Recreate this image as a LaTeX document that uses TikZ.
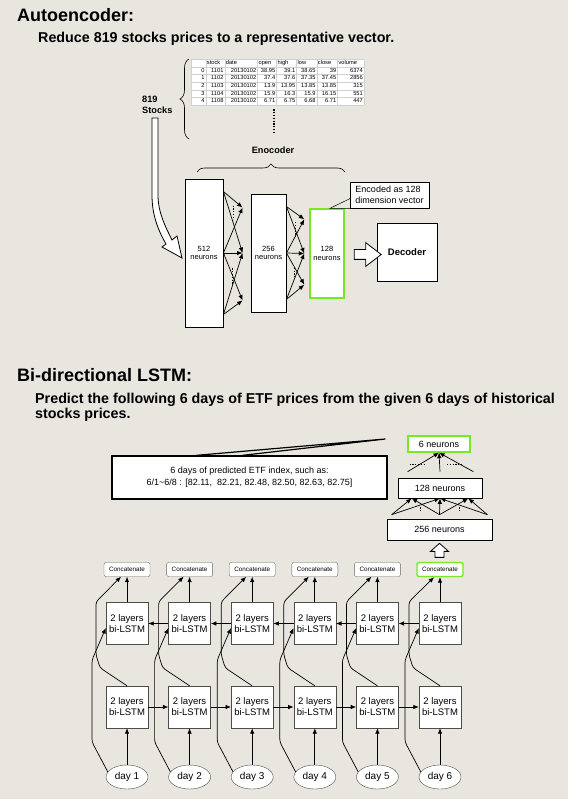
\documentclass[tikz,border=0pt]{standalone}
\usepackage{fontspec}
\setmainfont{Liberation Sans}
\usepackage{array,colortbl}
\usetikzlibrary{calc,positioning,arrows.meta,shapes.geometric,shapes.arrows,decorations.pathreplacing}

\definecolor{paper}{RGB}{233,230,224}
\definecolor{pick}{RGB}{118,232,36}
\newcolumntype{R}[1]{>{\raggedleft\arraybackslash}p{#1}}
\newcommand{\hd}[1]{\makebox[\linewidth][l]{#1}}

\tikzset{
  heading/.style={anchor=base west, inner sep=0pt, font=\fontsize{18}{20}\selectfont\bfseries},
  subheading/.style={anchor=north west, inner sep=0pt, align=left, font=\fontsize{14.3}{15}\selectfont\bfseries},
  layer/.style={draw, fill=white, line width=0.9pt, inner sep=0pt, align=center, font=\fontsize{7.5}{8.5}\selectfont},
  link/.style={-{Latex[length=5.5pt,width=4.5pt]}, line width=0.7pt},
  dots/.style={line width=1.2pt, dash pattern=on 1.2pt off 1.6pt},
  lstm/.style={draw=black!70, fill=white, minimum width=42pt, minimum height=42pt, inner sep=0pt, align=center, font=\fontsize{9.5}{11}\selectfont},
  concat/.style={draw=black!60, fill=white, rounded corners=2pt, minimum width=46pt, minimum height=14pt, inner sep=0pt, font=\fontsize{6.3}{7}\selectfont},
  picked/.style={draw=pick, line width=1.4pt},
  concatpick/.style={concat, picked},
  day/.style={ellipse, draw=black!70, fill=white, minimum width=42pt, minimum height=24pt, inner sep=0pt, font=\fontsize{10}{12}\selectfont},
  hollow/.style={single arrow, draw, fill=white, line width=0.8pt, inner xsep=0pt, single arrow head indent=0pt},
}

\begin{document}
\begin{tikzpicture}[x=1pt,y=-1pt]
\path[use as bounding box, fill=paper] (0,0) rectangle (568,799);

% autoencoder
\node[heading] (ttlA) at (17,22) {Autoencoder:};
\node[heading, font=\fontsize{14.3}{15}\selectfont\bfseries] (subA) at (38,43) {Reduce 819 stocks prices to a representative vector.};

\node[anchor=north west, inner sep=0pt, fill=white] (tbl) at (191,59) {%
  \fontsize{5.7}{7.2}\selectfont\setlength{\tabcolsep}{1pt}\arrayrulecolor{black!18}%
  \begin{tabular}{|R{11.9pt}|R{16.6pt}|R{30.3pt}|R{16.6pt}|R{17.6pt}|R{17.9pt}|R{18.3pt}|R{24.2pt}|}
  \hline
   & \hd{stock} & \hd{date} & \hd{open} & \hd{high} & \hd{low} & \hd{close} & \hd{volume}\\ \hline
  0 & 1101 & 20130102 & 38.95 & 39.1 & 38.65 & 39 & 6374\\ \hline
  1 & 1102 & 20130102 & 37.4 & 37.6 & 37.35 & 37.45 & 2856\\ \hline
  2 & 1103 & 20130102 & 13.9 & 13.95 & 13.85 & 13.85 & 315\\ \hline
  3 & 1104 & 20130102 & 15.9 & 16.3 & 15.9 & 16.15 & 551\\ \hline
  4 & 1108 & 20130102 & 6.71 & 6.75 & 6.68 & 6.71 & 447\\ \hline
  \end{tabular}};
\draw[dots] ($(tbl.south west)+(83,4)$) -- ($(tbl.south west)+(83,28)$);
\draw[decorate, decoration={brace, amplitude=9pt}, semithick] (189,139) -- (189,59);
\node[anchor=west, inner sep=0pt, align=left, font=\fontsize{9.2}{11}\selectfont\bfseries] (stk) at (142,105) {819\\Stocks};

% big hollow arrow into the encoder
\draw[fill=white, line width=0.8pt] (152,118) -- (152,195) .. controls (152,215) and (158,230) .. (166,244)
  -- (162,247) -- (182,258) -- (177,236) -- (172,240) .. controls (165,226) and (158,212) .. (158,195) -- (158,118) -- cycle;

\draw[decorate, decoration={brace, amplitude=8pt}, semithick] (197,172) -- (345,172);
\node[font=\fontsize{9.2}{11}\selectfont\bfseries] (encl) at (273,150.5) {Enocoder};

\node[layer, minimum width=38pt, minimum height=148pt] (n512) at (204,253) {512\\neurons};
\node[layer, minimum width=35pt, minimum height=118pt] (n256) at (268.5,253) {256\\neurons};
\node[layer, picked, minimum width=34pt, minimum height=89pt] (n128) at (327,253.5) {128\\neurons};
\node[layer, font=\fontsize{9.5}{11}\selectfont\bfseries, minimum width=60pt, minimum height=58pt] (dec) at (407,252) {Decoder};
\node[hollow, inner ysep=4.5pt, minimum height=27pt, single arrow head extend=7pt, single arrow tip angle=75] (toDec) at (364.5,254.5) {};

\node[draw, fill=white, line width=0.5pt, inner sep=0pt, minimum width=79pt, minimum height=26pt, align=left, font=\fontsize{9}{10.5}\selectfont] (encv) at (389.5,195) {Encoded as 128\\dimension vector};
\draw[line width=0.5pt] ($(encv.south west)+(1,-10)$) -- ($(n128.north)+(3,0)$) -- ($(encv.south west)+(7,0)$);

% 512 -> 256
\coordinate (a1) at ($(n512.north east)+(0,13)$);
\coordinate (a2) at (n512.east);
\coordinate (a3) at ($(n512.south east)+(0,-13)$);
\coordinate (b1) at ($(n256.north west)+(-8,14)$);
\coordinate (b2) at ($(n256.west)+(-8,0)$);
\coordinate (b3) at ($(n256.south west)+(-8,-12)$);
\foreach \a/\b in {a1/b1,a1/b2,a2/b1,a2/b2,a2/b3,a3/b2,a3/b3}
  \draw[link] (\a) -- (\b);
\draw[dots] ($(b1)+(-9,-2)$) -- ($(b1)+(-9,12)$);
\draw[dots] ($(b3)+(-10,-32)$) -- ($(b3)+(-10,-15)$);

% 256 -> 128
\coordinate (a4) at ($(n256.north east)+(0,13)$);
\coordinate (a5) at (n256.east);
\coordinate (a6) at ($(n256.south east)+(0,-13)$);
\coordinate (b4) at ($(n128.north west)+(-5,11)$);
\coordinate (b5) at ($(n128.west)+(-5,0)$);
\coordinate (b6) at ($(n128.south west)+(-5,-14)$);
\foreach \a/\b in {a4/b4,a4/b5,a5/b4,a5/b5,a5/b6,a6/b5,a6/b6}
  \draw[link] (\a) -- (\b);
\draw[dots] ($(b4)+(-9,3)$) -- ($(b4)+(-9,19)$);
\draw[dots] ($(b6)+(-10,-17)$) -- ($(b6)+(-10,-6)$);

% bi-directional LSTM
\node[heading] (ttlB) at (17,381) {Bi-directional LSTM:};
\node[subheading] (subB) at (35,392.6) {Predict the following 6 days of ETF prices from the given 6 days of historical\\stocks prices.};

\node[layer, picked, minimum width=62pt, minimum height=16pt, font=\fontsize{9}{10}\selectfont] (o6) at (439,444) {6 neurons};
\node[layer, line width=0.7pt, minimum width=84pt, minimum height=20pt, font=\fontsize{9}{10}\selectfont] (h128) at (440,488) {128 neurons};
\node[layer, line width=0.7pt, minimum width=105pt, minimum height=21pt, font=\fontsize{9}{10}\selectfont] (h256) at (439.5,529.5) {256 neurons};
\draw[fill=white, line width=0.8pt] ($(h256.south)+(0,3)$) -- ++(9,8) -- ++(-4.5,0) -- ++(0,6) -- ++(-9,0) -- ++(0,-6) -- ++(-4.5,0) -- cycle;

\node[draw, line width=1.3pt, fill=white, minimum width=275pt, minimum height=43pt, align=center, font=\fontsize{9}{12}\selectfont] (pred) at (249.5,477.5)
  {6 days of predicted ETF index, such as:\\6/1\textasciitilde 6/8 : [82.11,\ \ 82.21, 82.48, 82.50, 82.63, 82.75]};
\coordinate (callTip) at ($(o6.west)+(-22,-5)$);
\draw[line width=1.2pt] ($(pred.north west)+(85,0)$) -- (callTip) -- ($(pred.north west)+(131,0)$);

% 256 -> 128 -> 6
\coordinate (p1) at ($(h256.north west)+(5,-4)$);
\coordinate (p2) at ($(h256.north)+(0,-4)$);
\coordinate (p3) at ($(h256.north east)+(-5,-4)$);
\coordinate (q1) at ($(h128.south west)+(14,0)$);
\coordinate (q2) at (h128.south);
\coordinate (q3) at ($(h128.south east)+(-14,0)$);
\foreach \a/\b in {p1/q1,p1/q2,p2/q1,p2/q2,p2/q3,p3/q2,p3/q3}
  \draw[link] (\a) -- (\b);
\draw[dots] ($(q1)!.5!(q2)+(-5,9)$) -- ($(q1)!.5!(q2)+(-5,13)$);
\draw[dots] ($(q2)!.5!(q3)+(5,9)$) -- ($(q2)!.5!(q3)+(5,13)$);

\coordinate (r1) at ($(h128.north west)+(10,-6)$);
\coordinate (r2) at ($(h128.north)+(0,-6)$);
\coordinate (r3) at ($(h128.north east)+(-9,-6)$);
\foreach \a in {r1,r2,r3}
  \draw[link] (\a) -- (o6.south);
\draw[dots] ($(r1)+(2,-7)$) -- ($(r1)+(17,-7)$);
\draw[dots] ($(r2)+(7,-7)$) -- ($(r2)+(23,-7)$);

\foreach \i/\cst in {1/concat,2/concat,3/concat,4/concat,5/concat,6/concatpick} {
  \pgfmathsetmacro\cx{127+(\i-1)*62.6}
  \node[\cst] (c\i) at (\cx,569.5) {Concatenate};
  \node[lstm] (u\i) at (\cx,623.5) {2 layers\\bi-LSTM};
  \node[lstm] (l\i) at (\cx,707) {2 layers\\bi-LSTM};
  \node[day] (d\i) at (\cx,777) {day \i};
  \draw[link] (d\i) -- (l\i);
  \draw[link] (u\i) -- (c\i);
  \draw[link, rounded corners=3pt] (d\i.165) -- ($(d\i)+(-35,-35)$) -- ($(d\i)+(-35,-117)$) -- ($(u\i.west)+(0,4.5)$);
  \draw[link, rounded corners=3pt] (l\i.north) -- ($(l\i.north)+(-27,-18)$) -- ($(l\i.north)+(-31,-31)$)
    -- ($(l\i.north)+(-31,-84)$) -- ($(c\i.south)+(-6,0)$);
}
\foreach \i in {1,...,5} {
  \pgfmathtruncatemacro\j{\i+1}
  \draw[link] (l\i) -- (l\j);
  \draw[link] (u\j) -- (u\i);
}
\end{tikzpicture}
\end{document}
